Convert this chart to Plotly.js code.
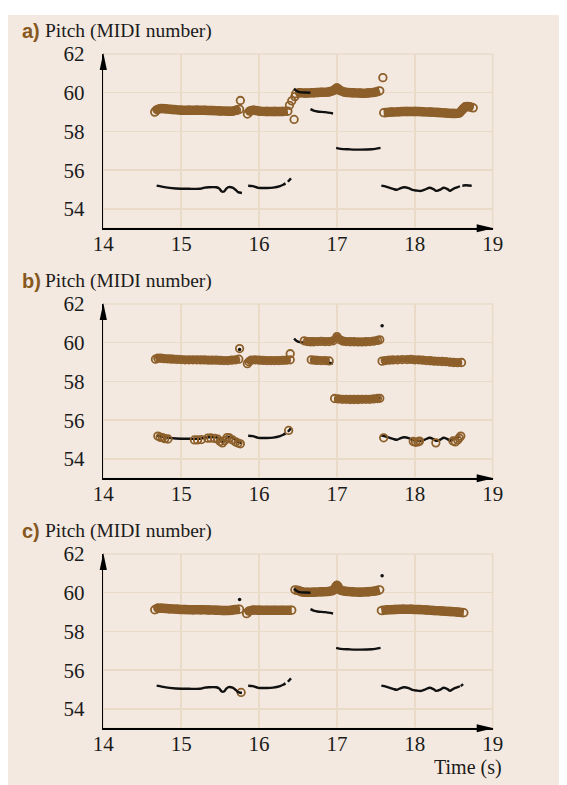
<!DOCTYPE html>
<html>
<head>
<meta charset="utf-8">
<script src="https://cdn.plot.ly/plotly-3.0.1.min.js"></script>
<style>html,body{margin:0;padding:0;background:#fff}</style>
</head>
<body>
<div id="chart" style="width:567px;height:785px"></div>
<script>
// ---- Pitch tracks (time in s, pitch in MIDI number); null splits segments ----

// reference pitch track (black)
const refT = [14.685,14.75,14.85,15.00,15.10,15.24,15.30,15.35,15.45,15.49,15.52,15.55,15.58,15.61,15.66,15.70,15.73,15.78,null,
  15.86,15.92,15.99,16.10,16.18,16.27,16.31,16.34,null,16.37,16.41,null,
  16.45,16.48,16.52,16.60,16.66,null,
  16.66,16.70,16.75,16.85,16.95,null,
  16.99,17.05,17.15,17.30,17.45,17.56,null,
  17.57,17.63,17.68,17.73,17.77,17.82,17.86,17.92,17.97,18.02,18.08,18.13,18.19,18.24,18.28,18.33,18.37,18.42,18.45,18.50,18.55,18.58];
const refP = [55.20,55.15,55.09,55.04,55.04,55.04,55.10,55.12,55.12,55.05,54.90,54.90,55.05,55.13,55.10,54.98,54.87,54.82,null,
  55.20,55.18,55.09,55.08,55.10,55.18,55.25,55.32,null,55.40,55.58,null,
  60.22,60.10,60.03,60.01,60.00,null,
  59.15,59.08,59.03,59.00,58.93,null,
  57.15,57.10,57.08,57.06,57.08,57.15,null,
  55.20,55.15,55.09,55.02,54.99,55.08,55.12,55.08,54.98,54.95,54.93,55.00,55.09,55.02,54.93,55.00,55.09,55.02,54.93,55.05,55.12,55.17];
// last pieces of the reference track, as drawn in panels a and c
const tailAT = [18.61,18.65,18.73];
const tailAP = [55.20,55.22,55.20];
const tailCT = [18.59,18.62];
const tailCP = [55.18,55.28];
// isolated reference frames
const dotsT = [15.75,17.58];
const dotsP = [59.65,60.88];

// a) estimated pitch
const aT = [14.66,14.69,14.73,14.80,14.90,15.00,15.10,15.20,15.30,15.40,15.50,15.60,15.66,15.71,15.75,null,
  15.76,null,
  15.85,15.88,15.93,16.00,16.10,16.20,16.30,16.37,null,
  16.39,null,16.42,null,16.45,null,16.46,null,
  16.47,16.52,16.60,16.70,16.80,16.90,16.97,17.00,17.04,17.10,17.20,17.30,17.40,17.48,17.55,null,
  17.59,null,
  17.60,17.70,17.80,17.90,18.00,18.10,18.20,18.30,18.40,18.50,18.57,18.61,18.65,18.70,18.75];
const aP = [59.00,59.12,59.18,59.17,59.13,59.10,59.10,59.10,59.09,59.08,59.06,59.05,59.05,59.10,59.15,null,
  59.60,null,
  58.90,59.05,59.10,59.05,59.03,59.03,59.03,59.05,null,
  59.35,null,59.58,null,58.62,null,59.80,null,
  59.95,60.00,59.98,60.00,60.02,60.05,60.15,60.25,60.12,60.03,60.00,59.98,59.99,60.02,60.10,null,
  60.78,null,
  58.97,59.00,59.02,59.03,59.03,59.02,59.00,58.98,58.95,58.93,58.95,59.12,59.28,59.28,59.22];

// b) estimated pitch, upper tracks
const bT = [14.67,14.70,14.74,14.78,14.82,14.86,14.90,14.95,15.00,15.05,15.10,15.15,15.20,15.25,15.30,15.35,15.40,15.45,15.50,15.55,15.60,15.65,15.70,15.74,null,
  15.75,null,
  15.85,15.87,15.90,15.95,16.00,16.05,16.10,16.15,16.20,16.25,16.30,16.35,16.40,null,
  16.40,null,
  16.58,16.62,16.66,16.70,16.75,16.80,16.85,16.90,16.95,17.00,17.04,17.08,17.12,17.17,17.22,17.27,17.32,17.37,17.42,17.47,17.52,17.55,null,
  16.67,16.71,16.75,16.80,16.85,16.90,null,
  16.97,17.02,17.07,17.12,17.17,17.22,17.27,17.32,17.37,17.42,17.47,17.52,17.55,null,
  17.58,17.62,17.67,17.72,17.78,17.84,17.90,17.95,18.00,18.05,18.10,18.15,18.20,18.25,18.30,18.35,18.40,18.45,18.50,18.55,18.60];
const bP = [59.15,59.20,59.20,59.18,59.17,59.16,59.15,59.14,59.13,59.12,59.12,59.12,59.12,59.11,59.11,59.10,59.10,59.10,59.09,59.08,59.08,59.10,59.12,59.15,null,
  59.70,null,
  58.92,59.02,59.10,59.12,59.10,59.09,59.08,59.08,59.08,59.08,59.09,59.10,59.12,null,
  59.43,null,
  60.10,60.06,60.05,60.05,60.06,60.07,60.06,60.06,60.10,60.32,60.15,60.08,60.06,60.05,60.05,60.04,60.04,60.05,60.06,60.08,60.12,60.15,null,
  59.12,59.10,59.09,59.08,59.08,59.06,null,
  57.12,57.10,57.08,57.08,57.07,57.07,57.07,57.08,57.08,57.08,57.10,57.12,57.13,null,
  59.05,59.08,59.10,59.11,59.12,59.13,59.13,59.14,59.12,59.12,59.10,59.08,59.07,59.05,59.04,59.03,59.02,59.00,58.98,58.97,58.98];
// b) estimated pitch, scattered frames near the low track
const bLowT = [14.70,14.73,14.76,14.79,14.83,15.17,15.21,15.26,15.34,15.38,15.43,15.47,15.50,15.53,15.56,15.59,15.62,15.66,15.70,15.73,15.76,
  16.38,17.60,17.98,18.01,18.04,18.06,18.27,18.49,18.52,18.55,18.57,18.59];
const bLowP = [55.18,55.12,55.10,55.05,55.03,54.98,54.98,55.00,55.07,55.08,55.06,55.02,54.90,54.83,54.95,55.10,55.08,54.98,54.88,54.82,54.78,
  55.47,55.09,54.90,54.86,54.88,54.92,54.83,54.93,54.88,54.98,55.08,55.18];

// c) estimated pitch
const cT = [14.66,14.70,14.75,14.85,14.95,15.05,15.15,15.25,15.35,15.45,15.55,15.65,15.70,15.75,null,
  15.84,15.87,15.92,16.00,16.10,16.20,16.30,16.42,null,
  16.46,16.50,16.55,16.62,16.70,16.80,16.90,16.96,17.00,17.04,17.10,17.20,17.30,17.40,17.48,17.55,null,
  17.57,17.65,17.75,17.85,17.95,18.05,18.15,18.25,18.35,18.45,18.55,18.63,null,
  15.77];
const cP = [59.12,59.20,59.20,59.17,59.15,59.13,59.12,59.12,59.11,59.10,59.08,59.10,59.13,59.15,null,
  58.92,59.05,59.10,59.10,59.09,59.09,59.09,59.10,null,
  60.15,60.12,60.05,60.02,60.03,60.05,60.07,60.15,60.38,60.15,60.08,60.05,60.03,60.05,60.08,60.15,null,
  59.08,59.12,59.14,59.15,59.15,59.13,59.11,59.08,59.06,59.03,59.00,58.97,null,
  54.85];

const xTicks = [14,15,16,17,18,19];
const yTicks = [54,56,58,60,62];
const panelLetters = ['a)','b)','c)'];
const panelTitle = 'Pitch (MIDI number)';
const xTitle = 'Time (s)';

// ---- styling ----
const W = 567, H = 785;
const BROWN = 'rgb(141,95,42)';
const GRID = 'rgb(234,219,201)';
const BEIGE = 'rgb(243,233,224)';
const INK = '#111';
const SERIF = 'Liberation Serif, Times New Roman, serif';

const px = v => v / W;
const py = v => 1 - v / H;

// plot-area pixel boxes (left, right, top, bottom) for each panel
const boxes = [[103.3,492.7,54,228.3],[103.3,492.7,304,478.3],[103.3,492.7,554,728.3]];

const layout = {
  width: W, height: H,
  margin: {l:0, r:0, t:0, b:0},
  paper_bgcolor: '#fff',
  plot_bgcolor: '#fff',
  showlegend: false,
  shapes: [{type:'rect', xref:'paper', yref:'paper', x0:px(8), x1:px(559), y0:0, y1:py(15),
            fillcolor:BEIGE, line:{width:0}, layer:'below'}],
  annotations: []
};

boxes.forEach((b, i) => {
  const n = i === 0 ? '' : String(i + 1);
  layout['xaxis' + n] = {
    domain:[px(b[0]), px(b[1])], anchor:'y' + n, range:[14,19], tickvals:xTicks,
    showgrid:true, gridcolor:GRID, gridwidth:1.5, zeroline:false,
    showline:true, linecolor:'#000', linewidth:1.7, ticks:'',
    tickfont:{family:SERIF, size:21, color:'#1b1b1b'}, ticklabelstandoff:-4
  };
  layout['yaxis' + n] = {
    domain:[py(b[3]), py(b[2])], anchor:'x' + n, range:[53,62], tickvals:yTicks,
    showgrid:true, gridcolor:GRID, gridwidth:1.5, zeroline:false,
    showline:true, linecolor:'#000', linewidth:1.7, ticks:'',
    tickfont:{family:SERIF, size:21, color:'#1b1b1b'}, ticklabelstandoff:13
  };
  // frame of the plotting area in grid colour
  layout.shapes.push({type:'rect', xref:'paper', yref:'paper',
    x0:px(b[0]), x1:px(b[1]), y0:py(b[3]), y1:py(b[2]), line:{color:GRID, width:1.5}, layer:'below'});
  // arrowheads on both axes
  const ax = b[0], bot = b[3], top = b[2] - 1, right = b[1];
  layout.shapes.push({type:'path', xref:'paper', yref:'paper', fillcolor:'#000', line:{width:0}, layer:'above',
    path:`M${px(ax)},${py(top)} L${px(ax-3.6)},${py(top+17)} L${px(ax+3.6)},${py(top+17)} Z`});
  layout.shapes.push({type:'path', xref:'paper', yref:'paper', fillcolor:'#000', line:{width:0}, layer:'above',
    path:`M${px(right+1)},${py(bot)} L${px(right-16)},${py(bot-4)} L${px(right-16)},${py(bot+4)} Z`});
  // panel heading
  const ty = 31 + 250 * i;
  layout.annotations.push({xref:'paper', yref:'paper', x:px(20), y:py(ty), xanchor:'left', yanchor:'middle',
    showarrow:false, text:'<b>' + panelLetters[i] + '</b>',
    font:{family:'Liberation Sans Narrow, Liberation Sans, sans-serif', size:20, color:'rgb(135,88,30)'}});
  layout.annotations.push({xref:'paper', yref:'paper', x:px(43), y:py(ty), xanchor:'left', yanchor:'middle',
    showarrow:false, text:panelTitle, font:{family:SERIF, size:19.5, color:'#1b1b1b'}});
});
layout.annotations.push({xref:'paper', yref:'paper', x:px(468), y:py(767), xanchor:'center', yanchor:'middle',
  showarrow:false, text:xTitle, font:{family:SERIF, size:20, color:'#1b1b1b'}});

// ---- traces ----
const refLine = (t, p, xa, ya) => ({x:t, y:p, xaxis:xa, yaxis:ya, type:'scatter', mode:'lines',
  line:{color:INK, width:2.4, shape:'spline', smoothing:0.7}, connectgaps:false, hoverinfo:'skip'});
const refDots = (xa, ya) => ({x:dotsT, y:dotsP, xaxis:xa, yaxis:ya, type:'scatter', mode:'markers',
  marker:{color:INK, size:3.5}, hoverinfo:'skip'});
const band = (t, p, xa, ya, lw) => ({x:t, y:p, xaxis:xa, yaxis:ya, type:'scatter', mode:'lines+markers',
  line:{color:BROWN, width:lw, shape:'spline', smoothing:0.6}, connectgaps:false,
  marker:{symbol:'circle-open', size:7.5, color:BROWN, line:{width:1.8, color:BROWN}}, hoverinfo:'skip'});

const data = [
  // a) estimates under the reference track
  band(aT, aP, 'x', 'y', 9.5),
  refLine(refT, refP, 'x', 'y'),
  refLine(tailAT, tailAP, 'x', 'y'),
  // b) reference under the estimates
  refLine(refT, refP, 'x2', 'y2'),
  refDots('x2', 'y2'),
  band(bT, bP, 'x2', 'y2', 6),
  {x:bLowT, y:bLowP, xaxis:'x2', yaxis:'y2', type:'scatter', mode:'markers',
   marker:{symbol:'circle-open', size:7.5, color:BROWN, line:{width:1.8, color:BROWN}}, hoverinfo:'skip'},
  // c)
  band(cT, cP, 'x3', 'y3', 9.5),
  refLine(refT, refP, 'x3', 'y3'),
  refLine(tailCT, tailCP, 'x3', 'y3'),
  refDots('x3', 'y3')
];

Plotly.newPlot('chart', data, layout, {staticPlot:true, displayModeBar:false});
</script>
</body>
</html>
